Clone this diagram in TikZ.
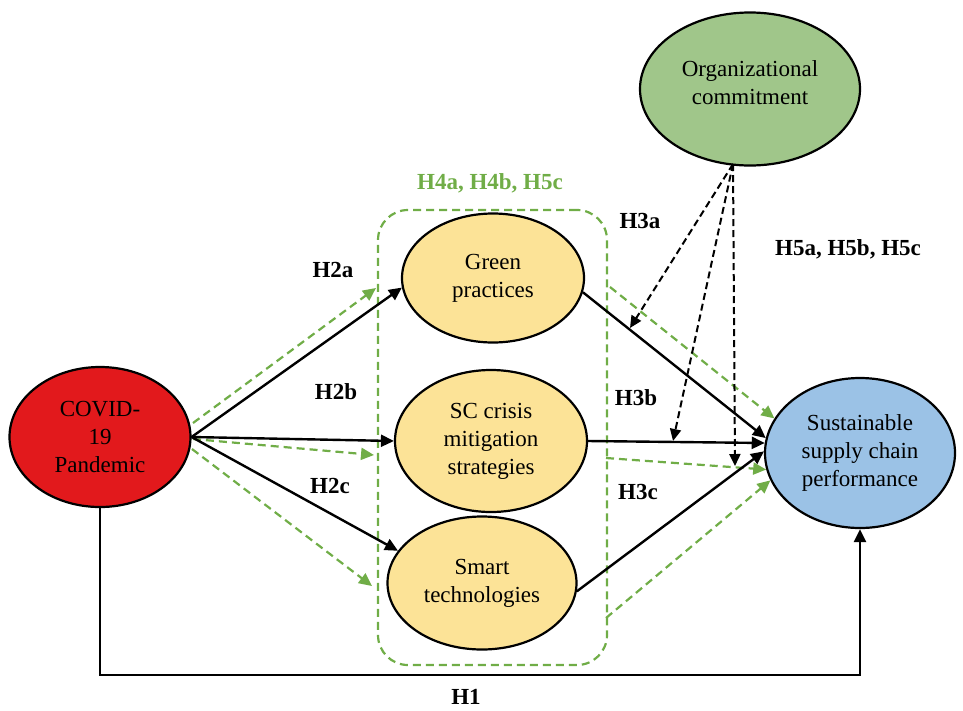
\documentclass[tikz,border=0pt]{standalone}
\usepackage{fontspec}
\setmainfont{Liberation Serif}
\usetikzlibrary{shapes.geometric,arrows.meta,calc}
\definecolor{covidred}{HTML}{E2191C}
\definecolor{orggreen}{HTML}{A0C68A}
\definecolor{medyellow}{HTML}{FCE397}
\definecolor{perfblue}{HTML}{9BC2E6}
\definecolor{dashgreen}{HTML}{70AD47}
\tikzset{
  oval/.style={ellipse, draw=black, line width=2.2pt, inner sep=0pt, align=center,
    font=\fontsize{23}{28}\selectfont},
  solidarrow/.style={draw=black, line width=2.4pt, -{Triangle[length=13pt,width=12pt]}},
  greenarrow/.style={draw=dashgreen, line width=2.2pt, dash pattern=on 8pt off 5pt,
    -{Triangle[length=13pt,width=12pt]}},
  blackdash/.style={draw=black, line width=2pt, dash pattern=on 7pt off 4pt,
    -{Triangle[length=12pt,width=11pt]}},
  hlabel/.style={font=\fontsize{23}{28}\selectfont\bfseries},
}
\begin{document}
\begin{tikzpicture}[x=1pt,y=-1pt]
\useasboundingbox (0,0) rectangle (963,710);

% green dashed grouping box
\node[draw=dashgreen, line width=2.2pt, dash pattern=on 8pt off 5pt, rounded corners=30pt,
  minimum width=229pt, minimum height=455pt, inner sep=0pt] (box) at (492.5,437.5) {};

% nodes
\node[oval, fill=covidred, minimum width=181pt, minimum height=140pt] (covid) at (100,437)
  {COVID-\\19\\Pandemic};
\node[oval, fill=medyellow, minimum width=182pt, minimum height=129pt] (green) at (493,278)
  {Green\\practices};
\node[oval, fill=medyellow, minimum width=192pt, minimum height=142pt] (sc) at (491,441)
  {SC crisis\\mitigation\\strategies};
\node[oval, fill=medyellow, minimum width=189pt, minimum height=133pt] (smart) at (482,583)
  {Smart\\technologies};
\node[oval, fill=orggreen, minimum width=220pt, minimum height=153pt] (org) at (750,89)
  {Organizational\\commitment\\[-16pt]\mbox{}};
\node[oval, fill=perfblue, minimum width=190pt, minimum height=150pt] (sscp) at (860,453)
  {Sustainable\\supply chain\\performance};

% labels
\node[hlabel, text=dashgreen] (lh4) at (490,183) {H4a, H4b, H5c};
\node[hlabel] (lh2a) at (333,270) {H2a};
\node[hlabel] (lh2b) at (336,392) {H2b};
\node[hlabel] (lh2c) at (330,486) {H2c};
\node[hlabel] (lh3a) at (640,221) {H3a};
\node[hlabel] (lh3b) at (636,398) {H3b};
\node[hlabel] (lh3c) at (638,492) {H3c};
\node[hlabel] (lh5) at (848,249) {H5a, H5b, H5c};
\node[hlabel] (lh1) at (466,697) {H1};

% free ends
\coordinate (g1s) at (193,423);
\coordinate (g1e) at (376,288);
\coordinate (g2s) at (193,439);
\coordinate (g2e) at (374,455);
\coordinate (g3s) at (192,449);
\coordinate (g3e) at (372,586);
\coordinate (r1s) at (610,287);
\coordinate (r2s) at (606,458);
\coordinate (r3s) at (606,618);
\coordinate (o1e) at (630,328);
\coordinate (o2e) at (673,441);
\coordinate (o3e) at (735,466);
\coordinate (ostart) at (733,164);
\coordinate (h1y) at (0,675);

% COVID -> mediators
\draw[greenarrow] (g1s) -- (g1e);
\draw[greenarrow] (g2s) -- (g2e);
\draw[greenarrow] (g3s) -- (g3e);
\draw[solidarrow] (covid.east) -- (green.186);
\draw[solidarrow] (covid.east) -- (sc.west);
\draw[solidarrow] (covid.east) -- (smart.159);

% mediators -> SSCP
\draw[greenarrow] (r1s) -- (sscp.158);
\draw[greenarrow] (r2s) -- (sscp.190);
\draw[greenarrow] (r3s) -- (sscp.197);
\draw[solidarrow] (green.-9) -- (sscp.171);
\draw[solidarrow] (sc.east) -- (sscp.174);
\draw[solidarrow] (smart.-5) -- (sscp.179);

% organizational commitment moderation
\draw[blackdash] (ostart) -- (o1e);
\draw[blackdash] (ostart) -- (o2e);
\draw[blackdash] (ostart) -- (o3e);

% H1
\draw[solidarrow] (covid.south) -- (covid.south |- h1y) -- (sscp.south |- h1y) -- (sscp.south);
\end{tikzpicture}
\end{document}
